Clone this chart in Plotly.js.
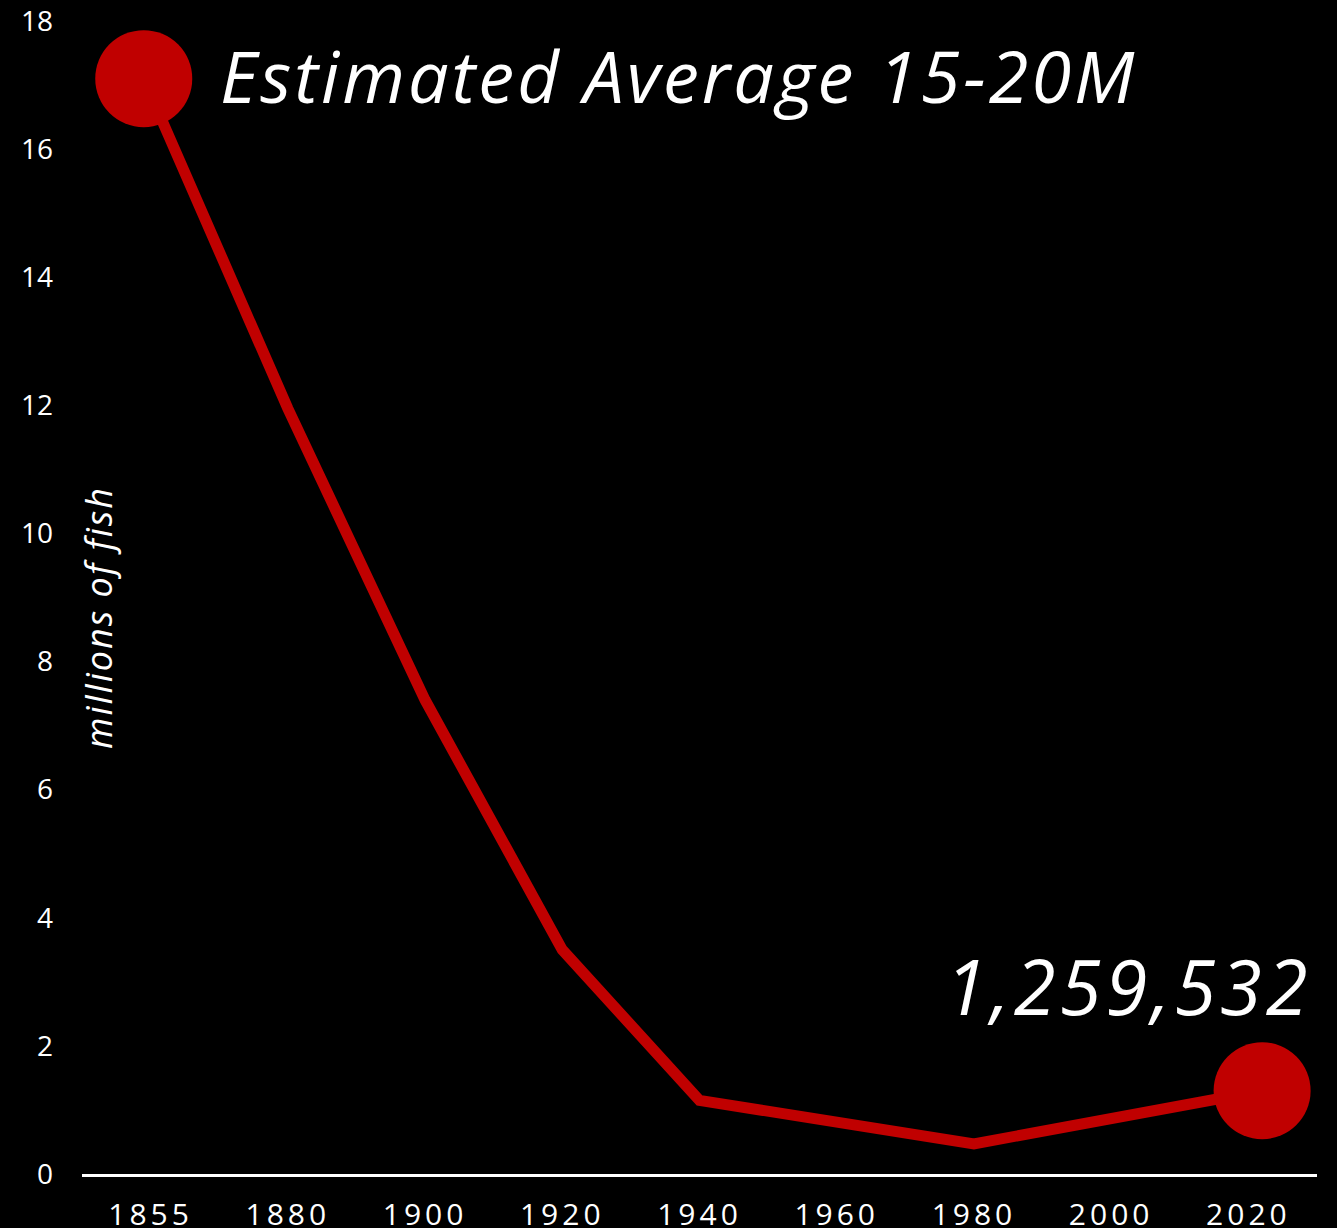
<!DOCTYPE html>
<html>
<head>
<meta charset="utf-8">
<script src="https://cdn.plot.ly/plotly-3.0.1.min.js"></script>
<style>
  html, body { margin: 0; padding: 0; background: #000; }
  #chart { width: 1337px; height: 1228px; }
  .xtick text { letter-spacing: 4px; }
  g.annotation[data-index="0"] text { letter-spacing: 3px; }
  g.annotation[data-index="1"] text { letter-spacing: 4px; }
  g.annotation[data-index="2"] text { letter-spacing: 2px; }
</style>
</head>
<body>
<div id="chart"></div>
<script>
// Data (millions of fish)
const years = [1859, 1880, 1900, 1920, 1940, 1980, 2022];
const fishMillions = [17.1, 11.95, 7.4, 3.5, 1.15, 0.47, 1.3];
const xTickValues = [1860, 1880, 1900, 1920, 1940, 1960, 1980, 2000, 2020];
const xTickLabels = ['1855', '1880', '1900', '1920', '1940', '1960', '1980', '2000', '2020'];
const yTickValues = [0, 2, 4, 6, 8, 10, 12, 14, 16, 18];
const startLabel = 'Estimated Average 15-20M';
const endLabel = '1,259,532';
const yAxisLabel = 'millions of fish';

const RED = '#c00000';
const FONT = '"Open Sans", "Noto Sans", sans-serif';
const last = years.length - 1;

const markerSizes = years.map((_, i) => (i === 0 || i === last) ? 97 : 0);

const trace = {
  type: 'scatter',
  mode: 'lines+markers',
  x: years,
  y: fishMillions,
  line: { color: RED, width: 11 },
  marker: { color: RED, size: markerSizes, opacity: 1, line: { width: 0 } },
  hoverinfo: 'skip',
  cliponaxis: false
};

const plotL = 82, plotR = 20, plotT = 21, plotB = 54;
const W = 1337, H = 1228;

const layout = {
  width: W,
  height: H,
  paper_bgcolor: '#000',
  plot_bgcolor: '#000',
  margin: { l: plotL, r: plotR, t: plotT, b: plotB },
  showlegend: false,
  font: { family: FONT, color: '#fff' },
  xaxis: {
    range: [1850, 2030],
    tickmode: 'array',
    tickvals: xTickValues,
    ticktext: xTickLabels,
    showgrid: false,
    zeroline: false,
    showline: true,
    linecolor: '#fff',
    linewidth: 3,
    ticks: '',
    ticklabelstandoff: 12,
    tickfont: { family: FONT, size: 30, color: '#fff' }
  },
  yaxis: {
    range: [0, 18],
    tickmode: 'array',
    tickvals: yTickValues,
    showgrid: false,
    zeroline: false,
    showline: false,
    ticks: '',
    ticklabelstandoff: 28,
    tickfont: { family: FONT, size: 28, color: '#fff' }
  },
  annotations: [
    {
      x: years[0], y: fishMillions[0], xref: 'x', yref: 'y',
      text: startLabel, showarrow: false,
      xanchor: 'left', yanchor: 'middle',
      xshift: 110, yshift: 4,
      font: { family: FONT, size: 72, color: '#fff', style: 'italic' }
    },
    {
      x: years[last], y: fishMillions[last], xref: 'x', yref: 'y',
      text: endLabel, showarrow: false,
      xanchor: 'right', yanchor: 'bottom',
      xshift: 34, yshift: 52,
      font: { family: FONT, size: 76, color: '#fff', style: 'italic' }
    },
    {
      x: (98 - plotL) / (W - plotL - plotR), xref: 'paper',
      y: ((H - plotB) - 618) / (H - plotB - plotT), yref: 'paper',
      xanchor: 'center', yanchor: 'middle',
      text: yAxisLabel, showarrow: false, textangle: -90,
      font: { family: FONT, size: 36, color: '#fff', style: 'italic' }
    }
  ]
};

Plotly.newPlot('chart', [trace], layout, { displayModeBar: false, staticPlot: true });
</script>
</body>
</html>
